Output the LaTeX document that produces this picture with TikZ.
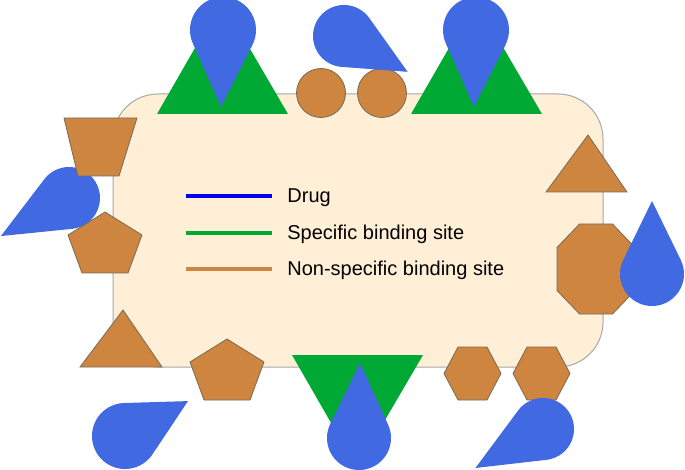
\documentclass[tikz,border=0pt]{standalone}
\usepackage{fontspec}
\setmainfont{Liberation Sans}
\usetikzlibrary{calc}

\definecolor{cellfill}{HTML}{FFEFD6}
\definecolor{cellline}{HTML}{A8A8A8}
\definecolor{drugblue}{HTML}{4169E1}
\definecolor{legblue}{HTML}{0000F0}
\definecolor{sitegreen}{HTML}{00A933}
\definecolor{siteorange}{HTML}{CD853F}
\definecolor{siteedge}{HTML}{7A6A55}

% drug drop: centre x, centre y, radius, direction of tip, distance of tip
\newcommand\drugdrop[5]{%
  \pgfmathsetmacro\dalpha{acos(#3/#5)}%
  \fill[drug] ($(#1,#2)+(#4:#5)$) -- ($(#1,#2)+(#4+\dalpha:#3)$)
    arc[start angle=#4+\dalpha, delta angle=360-2*\dalpha, radius=#3] -- cycle;}

\begin{document}
\begin{tikzpicture}[
    x=0.5pt, y=-0.5pt,
    font=\fontsize{10}{12}\selectfont,
    cell/.style={draw=cellline, fill=cellfill, line width=0.5pt, rounded corners=22.5pt},
    specific/.style={fill=sitegreen},
    nonspecific/.style={draw=siteedge, fill=siteorange, line width=0.4pt},
    drug/.style={fill=drugblue},
    legline/.style={line width=2pt},
    legend/.style={anchor=base west, inner sep=0pt}
]
\useasboundingbox (0,0) rectangle (685,470);

% cell body
\draw[cell] (113,94) rectangle (603,367);

% specific binding sites
\fill[specific] (157,114) -- (288,114) -- (222,1) -- cycle;
\fill[specific] (411,114) -- (542,114) -- (476,1) -- cycle;
\fill[specific] (292,355) -- (423,355) -- (357,468) -- cycle;

% drug under the left sites
\drugdrop{69}{198}{31}{150.8}{78}

% non-specific binding sites
\draw[nonspecific] (64,118) -- (137,118) -- (119,176) -- (78,176) -- cycle;
\foreach \px/\py in {105/212, 227/339}
  \draw[nonspecific] (\px,\py) -- ++(37,23) -- ++(-14,38) -- ++(-46,0) -- ++(-14,-38) -- cycle;
\draw[nonspecific] (80,367) -- (162,367) -- (123,310) -- cycle;
\draw[nonspecific] (546,192) -- (627,192) -- (588,135) -- cycle;
\foreach \cx in {321, 382}
  \draw[nonspecific] (\cx,93) circle[radius=24.5];
\foreach \hx in {472.5, 541.5}
  \draw[nonspecific] (\hx-28.5,373.5) -- (\hx-14.5,347) -- (\hx+14.5,347) -- (\hx+28.5,373.5)
    -- (\hx+14.5,400) -- (\hx-14.5,400) -- cycle;
\draw[nonspecific] (579.5,224) -- (612.5,224) -- (635,247.5) -- (635,290.5) -- (612.5,314)
  -- (579.5,314) -- (557,290.5) -- (557,247.5) -- cycle;

% drugs
\drugdrop{223}{30}{33}{91.5}{77}
\drugdrop{476}{30}{33}{91.5}{77}
\drugdrop{344}{36}{31}{29.4}{73}
\drugdrop{652}{274}{32}{-90}{73}
\drugdrop{359}{438}{32}{-89.2}{75}
\drugdrop{125}{436}{33}{-29}{72}
\drugdrop{543}{429}{31}{150}{78}

% legend
\node[legend] (drug) at (287,203) {Drug};
\node[legend] (spec) at (287,240) {Specific binding site};
\node[legend] (nonspec) at (287,276) {Non-specific binding site};
\draw[legline, legblue] (186,196) -- (272,196);
\draw[legline, sitegreen] (186,233) -- (272,233);
\draw[legline, siteorange] (186,269) -- (272,269);
\end{tikzpicture}
\end{document}
